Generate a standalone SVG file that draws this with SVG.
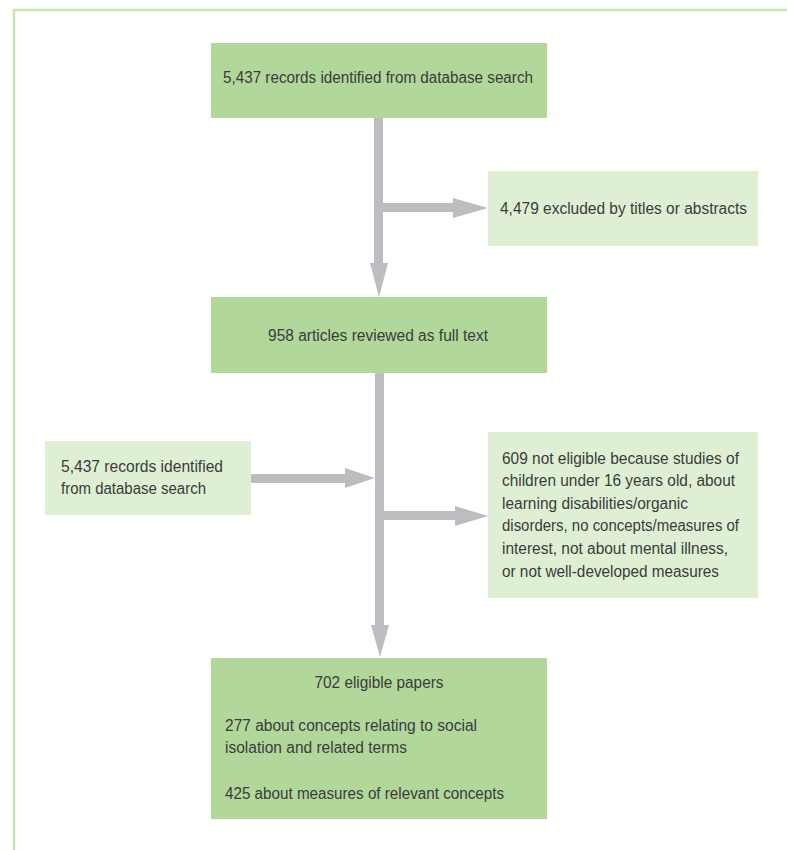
<svg xmlns="http://www.w3.org/2000/svg" width="787" height="850" viewBox="0 0 787 850">
<style>
.dark{fill:#b1d79b}
.light{fill:#dfefd4}
.arr{fill:#bcbdc1}
text{font-family:"Liberation Sans",Arial,sans-serif;font-size:16px;fill:#3b3b3b}
.c{text-anchor:middle}
</style>
<rect width="787" height="850" fill="#ffffff"/>
<path d="M14 850 V10 H787" fill="none" stroke="#c5e3b5" stroke-width="2.5"/>
<g id="connectors">
<rect class="arr" x="374" y="117" width="9" height="147"/>
<polygon class="arr" points="370,263 388,263 379,297"/>
<rect class="arr" x="383" y="203" width="72" height="9"/>
<polygon class="arr" points="453,198 453,218 488,208"/>
<rect class="arr" x="375" y="372" width="9" height="254"/>
<polygon class="arr" points="371,625 389,625 380,657"/>
<rect class="arr" x="251" y="474" width="96" height="9"/>
<polygon class="arr" points="345,468 345,488 375,478"/>
<rect class="arr" x="384" y="511" width="72" height="9"/>
<polygon class="arr" points="455,506 455,526 488,516"/>
</g>
<g id="n1">
<rect class="dark" x="211" y="43" width="336" height="75"/>
<text x="378" y="83" class="c" textLength="310" lengthAdjust="spacingAndGlyphs">5,437 records identified from database search</text>
</g>
<g id="n2">
<rect class="light" x="488" y="171" width="270" height="75"/>
<text x="500" y="214" textLength="247" lengthAdjust="spacingAndGlyphs">4,479 excluded by titles or abstracts</text>
</g>
<g id="n3">
<rect class="dark" x="211" y="297" width="336" height="76"/>
<text x="378" y="341" class="c" textLength="220" lengthAdjust="spacingAndGlyphs">958 articles reviewed as full text</text>
</g>
<g id="n4">
<rect class="light" x="45" y="441" width="206" height="74"/>
<text x="61" y="472" textLength="162" lengthAdjust="spacingAndGlyphs">5,437 records identified</text>
<text x="61" y="494" textLength="145" lengthAdjust="spacingAndGlyphs">from database search</text>
</g>
<g id="n5">
<rect class="light" x="488" y="432" width="270" height="166"/>
<text x="502" y="464" textLength="237" lengthAdjust="spacingAndGlyphs">609 not eligible because studies of</text>
<text x="502" y="486" textLength="233" lengthAdjust="spacingAndGlyphs">children under 16 years old, about</text>
<text x="502" y="509" textLength="186" lengthAdjust="spacingAndGlyphs">learning disabilities/organic</text>
<text x="502" y="531" textLength="237" lengthAdjust="spacingAndGlyphs">disorders, no concepts/measures of</text>
<text x="502" y="554" textLength="226" lengthAdjust="spacingAndGlyphs">interest, not about mental illness,</text>
<text x="502" y="577" textLength="217" lengthAdjust="spacingAndGlyphs">or not well-developed measures</text>
</g>
<g id="n6">
<rect class="dark" x="211" y="658" width="336" height="161"/>
<text x="379" y="688" class="c" textLength="129" lengthAdjust="spacingAndGlyphs">702 eligible papers</text>
<text x="225" y="731" textLength="252" lengthAdjust="spacingAndGlyphs">277 about concepts relating to social</text>
<text x="225" y="753" textLength="182" lengthAdjust="spacingAndGlyphs">isolation and related terms</text>
<text x="225" y="799" textLength="279" lengthAdjust="spacingAndGlyphs">425 about measures of relevant concepts</text>
</g>
</svg>
